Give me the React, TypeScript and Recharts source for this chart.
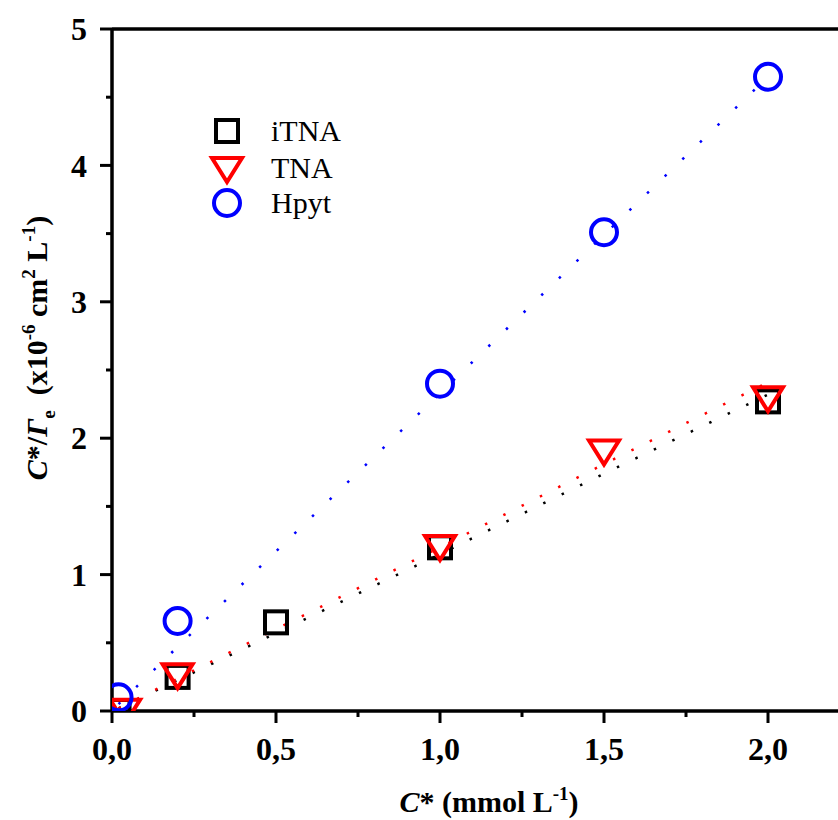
import React from "react"
import {
  ComposedChart,
  Line,
  Scatter,
  XAxis,
  YAxis,
  ReferenceLine,
  Legend,
  Label,
} from "recharts"

// measured points, C* in mmol/L, C*/Γe in 10^-6 cm2/L
const iTnaX = [0.02, 0.2, 0.5, 1.0, 2.0]
const iTnaY = [0.0, 0.25, 0.65, 1.2, 2.27]
const tnaX = [0.04, 0.2, 1.0, 1.5, 2.0]
const tnaY = [0.01, 0.27, 1.21, 1.91, 2.3]
const hpytX = [0.02, 0.2, 1.0, 1.5, 2.0]
const hpytY = [0.1, 0.66, 2.4, 3.51, 4.65]

// dotted fit lines
const fitX = [0.02, 0.5, 1.0, 1.5, 2.0]
const iTnaFit = [0.02, 0.57, 1.15, 1.74, 2.32]
const tnaFit = [0.02, 0.6, 1.2, 1.81, 2.41]
const hpytFit = [0.05, 1.17, 2.33, 3.49, 4.65]

const seriesNames = ["iTNA", "TNA", "Hpyt"]
const seriesColors = ["#000000", "#ff0000", "#0000ff"]

const xTicks = [0, 0.25, 0.5, 0.75, 1, 1.25, 1.5, 1.75, 2]
const yTicks = [0, 0.5, 1, 1.5, 2, 2.5, 3, 3.5, 4, 4.5, 5]

const FONT = '"Liberation Serif", "Times New Roman", serif'

const toRows = (xs: number[], ys: number[]) => xs.map((x, i) => ({ x, y: ys[i] }))

function SquareMark({ cx, cy, color = seriesColors[0] }: any) {
  return <rect x={cx - 11} y={cy - 11} width={22} height={22} fill="none" stroke={color} strokeWidth={4} />
}

function TriangleMark({ cx, cy, color = seriesColors[1] }: any) {
  return (
    <polygon
      points={`${cx - 15},${cy - 10} ${cx + 15},${cy - 10} ${cx},${cy + 14}`}
      fill="none"
      stroke={color}
      strokeWidth={4}
      strokeLinejoin="miter"
    />
  )
}

function CircleMark({ cx, cy, color = seriesColors[2] }: any) {
  return <circle cx={cx} cy={cy} r={13} fill="none" stroke={color} strokeWidth={4} />
}

const markers = [SquareMark, TriangleMark, CircleMark]

function fmt(v: number) {
  return v.toFixed(1).replace(".", ",")
}

function YTick({ x, y, payload }: any) {
  const v = payload.value as number
  const major = Number.isInteger(v)
  return (
    <g>
      <line x1={x - (major ? 12 : 6)} x2={x} y1={y} y2={y} stroke="#000" strokeWidth={3} />
      {major && (
        <text x={x - 25} y={y} dy="0.35em" textAnchor="end" fontFamily={FONT} fontWeight="bold" fontSize={32} fill="#000">
          {v}
        </text>
      )}
    </g>
  )
}

function XTick({ x, y, payload }: any) {
  const v = payload.value as number
  const major = Math.abs(v * 2 - Math.round(v * 2)) < 1e-9
  return (
    <g>
      <line x1={x} x2={x} y1={y} y2={y + (major ? 12 : 6)} stroke="#000" strokeWidth={3} />
      {major && (
        <text x={x} y={y + 49} textAnchor="middle" fontFamily={FONT} fontWeight="bold" fontSize={32} fill="#000">
          {fmt(v)}
        </text>
      )}
    </g>
  )
}

function XTitle({ viewBox }: any) {
  const cx = viewBox.x + viewBox.width / 2 + 14
  const by = viewBox.y + 101
  return (
    <text x={cx} y={by} textAnchor="middle" fontFamily={FONT} fontWeight="bold" fontSize={30} fill="#000" style={{ whiteSpace: "pre" }}>
      <tspan fontStyle="italic">C</tspan>
      <tspan>* (mmol L</tspan>
      <tspan dy={-12} fontSize={19}>-1</tspan>
      <tspan dy={12}>)</tspan>
    </text>
  )
}

function YTitle({ viewBox }: any) {
  const lx = 47
  const ly = viewBox.y + viewBox.height / 2 - 22
  return (
    <text
      x={lx}
      y={ly}
      transform={`rotate(-90, ${lx}, ${ly})`}
      textAnchor="middle"
      fontFamily={FONT}
      fontWeight="bold"
      fontSize={30}
      fill="#000"
      style={{ whiteSpace: "pre" }}
    >
      <tspan fontStyle="italic">C</tspan>
      <tspan>*/</tspan>
      <tspan fontStyle="italic">Γ</tspan>
      <tspan dy={8} fontSize={19}>e</tspan>
      <tspan dy={-8}>  (x10</tspan>
      <tspan dy={-12} fontSize={19}>-6</tspan>
      <tspan dy={12}> cm</tspan>
      <tspan dy={-12} fontSize={19}>2</tspan>
      <tspan dy={12}> L</tspan>
      <tspan dy={-12} fontSize={19}>-1</tspan>
      <tspan dy={12}>)</tspan>
    </text>
  )
}

function LegendBox() {
  const rowY = [19, 56, 91]
  return (
    <svg width={160} height={110}>
      {seriesNames.map((name, i) => {
        const Mark = markers[i]
        return (
          <g key={name}>
            <Mark cx={27} cy={rowY[i]} color={seriesColors[i]} />
            <text x={71} y={rowY[i] + 10} fontFamily={FONT} fontSize={30} fill="#000">
              {name}
            </text>
          </g>
        )
      })}
    </svg>
  )
}

export default function App() {
  const pointSets = [toRows(iTnaX, iTnaY), toRows(tnaX, tnaY), toRows(hpytX, hpytY)]
  const fitSets = [toRows(fitX, iTnaFit), toRows(fitX, tnaFit), toRows(fitX, hpytFit)]

  return (
    <div style={{ position: "absolute", left: 0, top: 0, width: 838, height: 820, background: "#fff" }}>
      <ComposedChart width={838} height={820} margin={{ top: 29, right: 0, bottom: 0, left: 0 }}>
        <XAxis
          dataKey="x"
          type="number"
          domain={[0, 2.2134]}
          ticks={xTicks}
          interval={0}
          allowDataOverflow
          height={109}
          tickSize={0}
          tickMargin={0}
          tickLine={false}
          axisLine={{ stroke: "#000", strokeWidth: 3.5 }}
          tick={<XTick />}
        >
          <Label content={<XTitle />} />
        </XAxis>
        <YAxis
          dataKey="y"
          type="number"
          domain={[0, 5]}
          ticks={yTicks}
          interval={0}
          allowDataOverflow
          width={112}
          tickSize={0}
          tickMargin={0}
          tickLine={false}
          axisLine={{ stroke: "#000", strokeWidth: 3.5 }}
          tick={<YTick />}
        >
          <Label content={<YTitle />} />
        </YAxis>
        <ReferenceLine y={5} stroke="#000" strokeWidth={3.5} />

        {fitSets.map((rows, i) => (
          <Line
            key={"fit-" + seriesNames[i]}
            data={rows}
            dataKey="y"
            type="linear"
            stroke={seriesColors[i]}
            strokeWidth={2.5}
            strokeDasharray={i === 2 ? "2.5 22" : "2.5 18"}
            dot={false}
            activeDot={false}
            legendType="none"
            isAnimationActive={false}
          />
        ))}

        {pointSets.map((rows, i) => {
          const Mark = markers[i]
          return (
            <Scatter
              key={seriesNames[i]}
              name={seriesNames[i]}
              data={rows}
              dataKey="y"
              shape={(p: any) => <Mark cx={p.cx} cy={p.cy} color={seriesColors[i]} />}
              isAnimationActive={false}
            />
          )
        })}

        <Legend
          layout="horizontal"
          verticalAlign="middle"
          align="center"
          wrapperStyle={{ left: 200, top: 112, width: 160, height: 110 }}
          content={() => <LegendBox />}
        />
      </ComposedChart>
    </div>
  )
}
